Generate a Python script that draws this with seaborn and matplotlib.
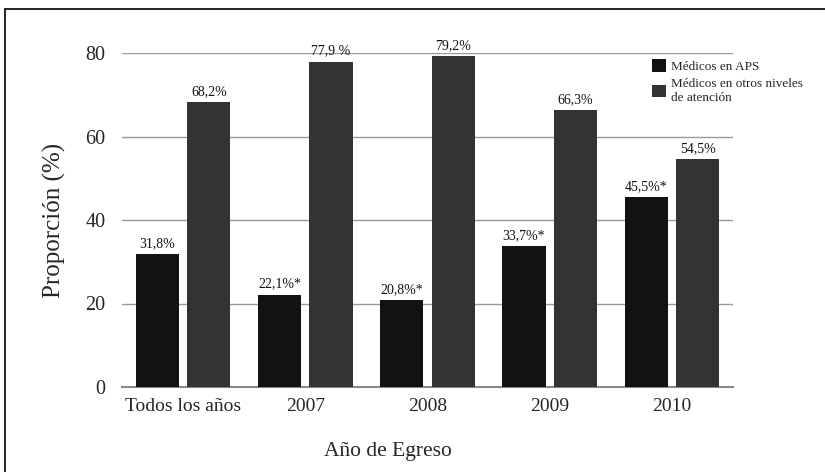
import matplotlib
matplotlib.use("Agg")
import matplotlib.pyplot as plt
import seaborn as sns
import pandas as pd
from matplotlib.lines import Line2D

categories = ["Todos los años", "2007", "2008", "2009", "2010"]
series_names = ["Médicos en APS", "Médicos en otros niveles\nde atención"]
aps_values = [31.8, 22.1, 20.8, 33.7, 45.5]
otros_values = [68.2, 77.9, 79.2, 66.3, 54.5]
aps_labels = ["31,8%", "22,1%*", "20,8%*", "33,7%*", "45,5%*"]
otros_labels = ["68,2%", "77,9 %", "79,2%", "66,3%", "54,5%"]
y_ticks = [0, 20, 40, 60, 80]

df = pd.DataFrame({
    "cat": categories * 2,
    "serie": [series_names[0]] * 5 + [series_names[1]] * 5,
    "val": aps_values + otros_values,
})

sns.set_theme(style="white")
plt.rcParams["font.family"] = ["Liberation Serif", "DejaVu Serif"]

W, H = 825, 472
fig = plt.figure(figsize=(W / 100, H / 100), dpi=100)
ax = fig.add_axes([122 / W, 1 - 387 / H, 611 / W, 334 / H])

sns.barplot(data=df, x="cat", y="val", hue="serie", order=categories,
            hue_order=series_names, palette=["#121212", "#333333"],
            width=0.84, gap=0.16, saturation=1, ax=ax, zorder=3,
            edgecolor="none")

for cont, labs in zip(ax.containers, [aps_labels, otros_labels]):
    ax.bar_label(cont, labels=labs, padding=3, fontsize=10, color="#111111")

ax.set_ylim(0, 80)
ax.set_yticks(y_ticks)
ax.set_yticklabels([str(t) for t in y_ticks], fontsize=14.5)
ax.tick_params(axis="x", labelsize=14, pad=8, length=0)
ax.tick_params(axis="y", length=0, pad=12)
ax.yaxis.grid(True, color="#999999", linewidth=1.0, zorder=0)
ax.set_axisbelow(True)
for s in ["top", "right", "left"]:
    ax.spines[s].set_visible(False)
ax.spines["bottom"].set_color("#888888")
ax.spines["bottom"].set_linewidth(1.5)
ax.set_ylabel("Proporción (%)", fontsize=18, labelpad=14)
ax.set_xlabel("Año de Egreso", fontsize=15.5)
ax.xaxis.set_label_coords(0.435, -0.165)

leg = fig.legend(handles=ax.get_legend_handles_labels()[0],
                 labels=series_names, loc="upper left",
                 bbox_to_anchor=(642 / W, 1 - 49 / H), frameon=False,
                 fontsize=9.5, handlelength=1.1, handleheight=1.1,
                 handletextpad=0.35, borderpad=0.25, labelspacing=0.4)
ax.get_legend().remove()

fig.add_artist(Line2D([5 / W, 5 / W], [0, 1 - 9 / H], transform=fig.transFigure,
                      color="black", linewidth=1.2))
fig.add_artist(Line2D([5 / W, 1], [1 - 9 / H, 1 - 9 / H], transform=fig.transFigure,
                      color="black", linewidth=1.2))

fig.savefig("out.png", dpi=100)
